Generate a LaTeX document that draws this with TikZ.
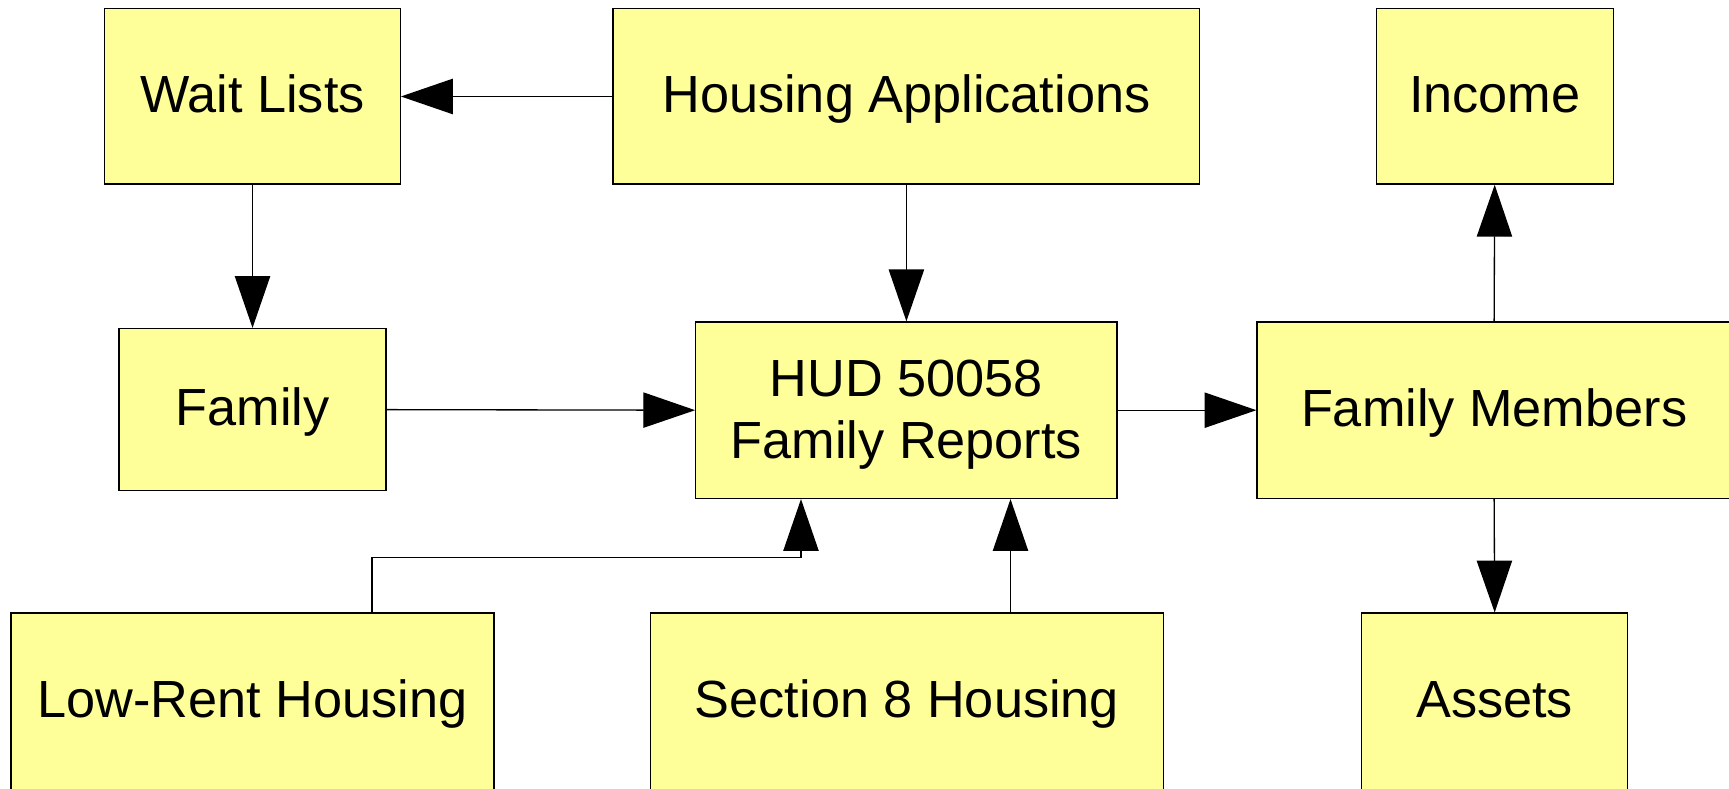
\documentclass[tikz,border=0pt]{standalone}
\usepackage{fontspec}
\setmainfont{Liberation Sans}
\usetikzlibrary{arrows.meta,calc}
\definecolor{boxfill}{HTML}{FFFF99}
\tikzset{
  box/.style={draw=black, fill=boxfill, line width=0.6pt, rectangle, inner sep=0pt,
    font=\fontsize{23.7}{28}\selectfont, text height=17pt, text depth=2.5pt},
  box2/.style={draw=black, fill=boxfill, line width=0.6pt, rectangle, inner sep=0pt,
    font=\fontsize{23.7}{28}\selectfont, align=center},
  arr/.style={draw=black, line width=0.6pt, -{Triangle[length=23.5pt,width=16pt]}}
}
\begin{document}
\begin{tikzpicture}[x=0.5pt,y=-0.5pt]
\clip (0,0) rectangle (1568,715);
\fill[white] (0,0) rectangle (1568,715);
\node[box, minimum width=134pt, minimum height=79.5pt] (wait) at (229,87.5) {Wait Lists};
\node[box, minimum width=266pt, minimum height=79.5pt] (apps) at (822,87.5) {Housing Applications};
\node[box, minimum width=107.5pt, minimum height=79.5pt] (income) at (1355.5,87.5) {Income};
\node[box, minimum width=121pt, minimum height=73.5pt] (family) at (229,371.5) {Family};
\node[box2, minimum width=191pt, minimum height=80pt] (hud) at (822,372) {};
\node[box2, draw=none, fill=none] (hudtext) at ($(hud.center)+(0,4)$) {HUD 50058\\Family Reports};
\node[box, minimum width=215pt, minimum height=80pt] (members) at (1355,372) {Family Members};
\node[box, minimum width=219pt, minimum height=80pt] (lowrent) at (229,636) {Low-Rent Housing};
\node[box, minimum width=232.5pt, minimum height=80pt] (sec8) at (822.5,636) {Section 8 Housing};
\node[box, minimum width=120.5pt, minimum height=80pt] (assets) at (1355.5,636) {Assets};
\coordinate (lrup) at ($(lowrent.north west)+(328,0)$);
\coordinate (hudin1) at ($(hud.south west)+(96,0)$);
\coordinate (hudin2) at ($(hud.south west)+(286,0)$);
\draw[arr] (apps.west) -- (wait.east);
\draw[arr] (wait.south) -- (family.north);
\draw[arr] (apps.south) -- (hud.north);
\draw[arr] (family.east) -- (hud.west);
\draw[arr] (hud.east) -- (members.west);
\draw[arr] (members.north) -- (income.south);
\draw[arr] (members.south) -- (assets.north);
\draw[arr] (lrup) -- ++(0,-50) -| (hudin1);
\draw[arr] (sec8.north -| hudin2) -- (hudin2);
\end{tikzpicture}
\end{document}
